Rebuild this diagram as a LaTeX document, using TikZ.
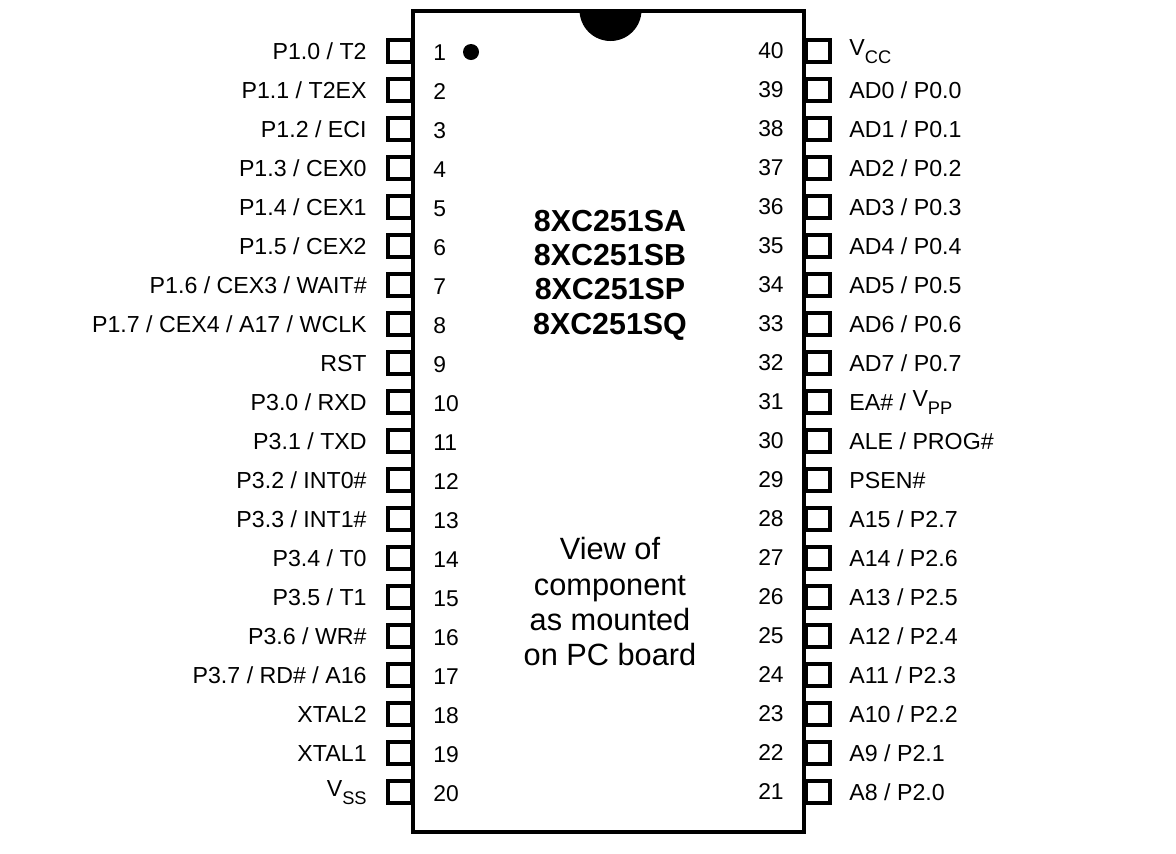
\documentclass[tikz,border=0pt]{standalone}
\usepackage{fontspec}
\setmainfont{Liberation Sans}
\usetikzlibrary{positioning}
\tikzset{
  pinbox/.style={draw,line width=4pt*0.5686,minimum width=24*0.02cm,minimum height=21.5*0.02cm,inner sep=0pt},
  pinname/.style={font=\fontsize{13.2}{15}\selectfont,inner sep=0pt},
  pinnum/.style={font=\fontsize{13}{15}\selectfont,inner sep=0pt},
  typename/.style={font=\fontsize{17.3}{19}\selectfont\bfseries,inner sep=0pt,anchor=base},
  viewnote/.style={font=\fontsize{17.5}{19}\selectfont,inner sep=0pt,anchor=base}
}
\newcommand{\vsub}[2]{\raisebox{2.4pt}{#1}\raisebox{-2.6pt}{\fontsize{10.4}{12}\selectfont #2}}
\begin{document}
\begin{tikzpicture}[x=0.02cm,y=-0.02cm]
  \useasboundingbox (0,0) rectangle (1176,853);
  % Package outline and notch
  \begin{scope}
    \clip (413,11) rectangle (804,60);
    \fill (610.5,10) circle (31);
  \end{scope}
  \node[draw,line width=4pt*0.5686,minimum width=391*0.02cm,minimum height=821*0.02cm,inner sep=0pt] (chip) at (608.5,421.5) {};
  \node[circle,fill=black,minimum size=16*0.02cm,inner sep=0pt] (dot) at (471,52) {};

  % Left side pins
  \foreach \n/\txt in {1/{P1.0 / T2},2/{P1.1 / T2EX},3/{P1.2 / ECI},4/{P1.3 / CEX0},5/{P1.4 / CEX1},
      6/{P1.5 / CEX2},7/{P1.6 / CEX3 / WAIT\#},8/{P1.7 / CEX4 / A17 / WCLK},9/RST,10/{P3.0 / RXD},
      11/{P3.1 / TXD},12/{P3.2 / INT0\#},13/{P3.3 / INT1\#},14/{P3.4 / T0},15/{P3.5 / T1},
      16/{P3.6 / WR\#},17/{P3.7 / RD\# / A16},18/XTAL2,19/XTAL1,20/{\vsub{V}{SS}}}{
    \node[pinbox] (pin\n) at (399.5,{51+(\n-1)*39}) {};
    \node[pinname,anchor=base east] (name\n) at (367,{59.3+(\n-1)*39}) {\txt};
    \node[pinnum,anchor=base west] (num\n) at (433,{60+(\n-1)*39}) {\n};
  }

  % Right side pins
  \foreach \n/\txt in {40/{\vsub{V}{CC}},39/{AD0 / P0.0},38/{AD1 / P0.1},37/{AD2 / P0.2},36/{AD3 / P0.3},
      35/{AD4 / P0.4},34/{AD5 / P0.5},33/{AD6 / P0.6},32/{AD7 / P0.7},31/{EA\# / \vsub{V}{PP}},
      30/{ALE / PROG\#},29/PSEN\#,28/{A15 / P2.7},27/{A14 / P2.6},26/{A13 / P2.5},25/{A12 / P2.4},
      24/{A11 / P2.3},23/{A10 / P2.2},22/{A9 / P2.1},21/{A8 / P2.0}}{
    \node[pinbox] (pin\n) at (817.5,{51+(40-\n)*39}) {};
    \node[pinname,anchor=base west] (name\n) at (849,{59.3+(40-\n)*39}) {\txt};
    \node[pinnum,anchor=base east] (num\n) at (784,{58.5+(40-\n)*39}) {\n};
  }

  % Part numbers
  \node[typename] (sa) at (610,231) {8XC251SA};
  \node[typename] (sb) at (610,265) {8XC251SB};
  \node[typename] (sp) at (610,299) {8XC251SP};
  \node[typename] (sq) at (610,334) {8XC251SQ};

  % Mounting note
  \node[viewnote] (note1) at (610,559) {View of};
  \node[viewnote] (note2) at (610,595) {component};
  \node[viewnote] (note3) at (610,630) {as mounted};
  \node[viewnote] (note4) at (610,665) {on PC board};
\end{tikzpicture}
\end{document}
